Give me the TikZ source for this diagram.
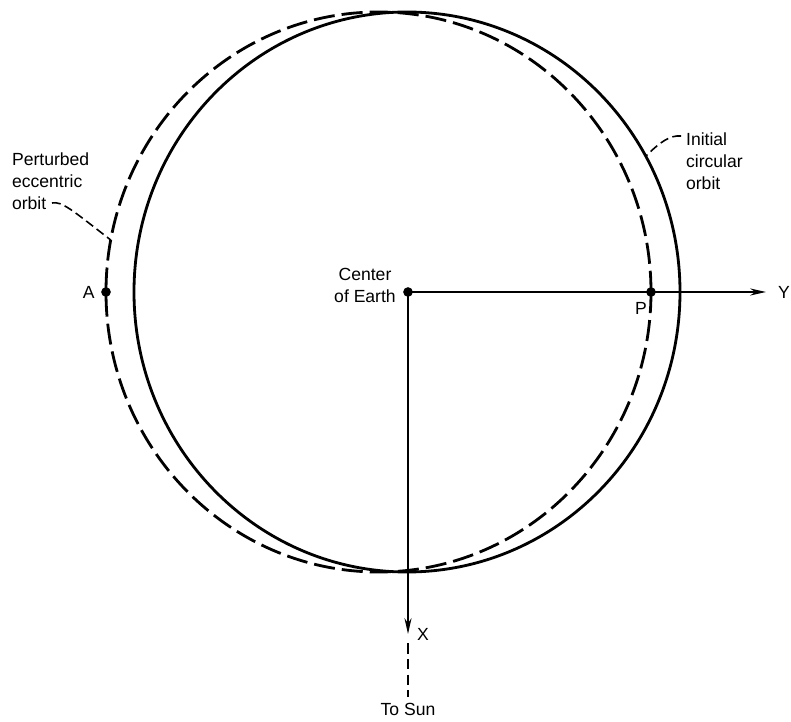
\documentclass[tikz,border=0pt]{standalone}
\usepackage{fontspec}
\setmainfont{Liberation Sans}
\usetikzlibrary{arrows.meta,positioning,calc}
\tikzset{
orbitcirc/.style={line width=1.6pt},
orbitecc/.style={line width=1.6pt,dash pattern=on 12pt off 4pt},
leadline/.style={line width=0.9pt,dash pattern=on 5pt off 2.5pt},
sunline/.style={line width=1.1pt,dash pattern=on 6pt off 3pt},
axisarr/.style={line width=1.1pt,-{Stealth[length=9pt,width=4pt]}},
ptdot/.style={circle,fill=black,inner sep=0pt,minimum size=5.5pt},
lbl/.style={font=\fontsize{10}{12.5}\selectfont,inner sep=1pt,align=left}
}
\begin{document}
\begin{tikzpicture}[x=0.02cm,y=-0.02cm]
\useasboundingbox (0,0) rectangle (791,722);
% orbits
\coordinate (cc) at (407,292);
\coordinate (ec) at (378.5,292);
\draw[orbitcirc] (cc) ellipse [x radius=273,y radius=280];
\draw[orbitecc] (ec) ellipse [x radius=272.5,y radius=280];
% points on the orbits and axes
\node[ptdot] (earth) at (408,292) {};
\node[ptdot] (ptA) at ($(ec)+(180:272.5 and 280)$) {};
\node[ptdot] (ptP) at ($(ec)+(0:272.5 and 280)$) {};
\coordinate (yend) at (766,292);
\coordinate (xend) at (408,634);
\coordinate (sunA) at (408,643);
\coordinate (sunB) at (408,697);
\draw[axisarr] (earth.center) -- (yend);
\draw[axisarr] (earth.center) -- (xend);
\draw[sunline] (sunA) -- (sunB);
% labels
\node[lbl,align=center] (lblearth) at (365,285) {Center\\of Earth};
\node[lbl,left=0.08cm of ptA] (lblA) {A};
\node[lbl] (lblP) at (641,308) {P};
\node[lbl,right=0.2cm of yend] (lblY) {Y};
\node[lbl,right=0.14cm of xend] (lblX) {X};
\node[lbl,below=0.08cm of sunB] (lblsun) {To Sun};
\node[lbl,anchor=west] (lblpert) at (10,181) {Perturbed\\eccentric\\orbit};
\node[lbl,anchor=west] (lblinit) at (684,161) {Initial\\circular\\orbit};
% leaders
\coordinate (pertend) at (52,203);
\coordinate (eccpt) at ($(ec)+(190.7:272.5 and 280)$);
\coordinate (initend) at (681,136);
\coordinate (circpt) at ($(cc)+(-29:273 and 280)$);
\draw[leadline] (pertend) .. controls (62,201) and (72,210) .. (eccpt);
\draw[leadline] (initend) .. controls (670,135) and (660,142) .. (circpt);
\end{tikzpicture}
\end{document}
